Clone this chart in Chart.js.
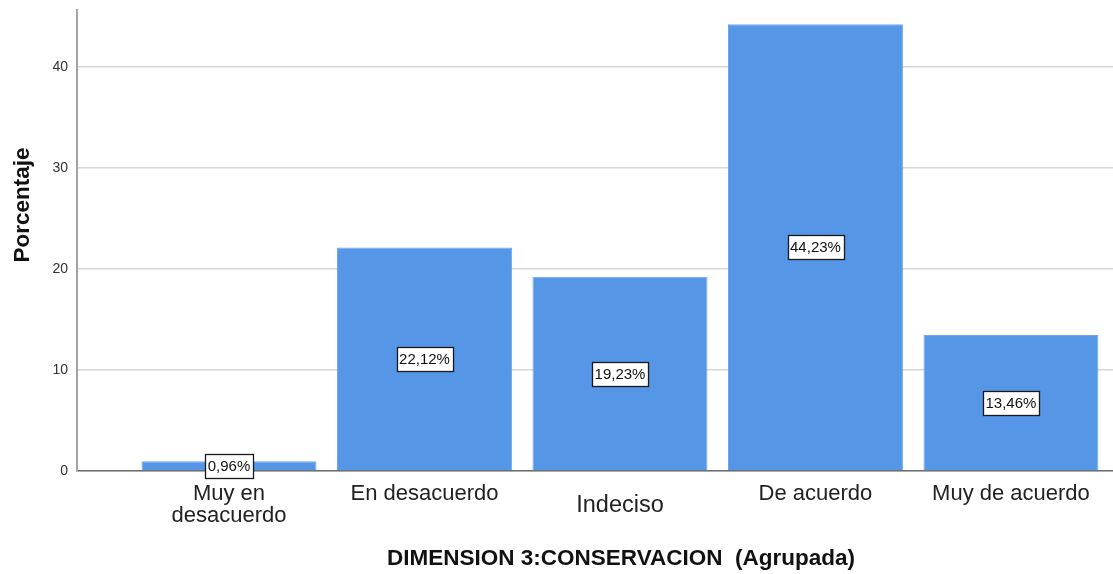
<!DOCTYPE html>
<html><head><meta charset="utf-8">
<script src="https://cdn.jsdelivr.net/npm/chart.js@4"></script>
<style>html,body{margin:0;padding:0;background:#fff;}#wrap{width:1113px;height:574px;}</style>
</head><body><div id="wrap"><canvas id="c" width="1113" height="574"></canvas></div>
<script>
const categories = [['Muy en', 'desacuerdo'], 'En desacuerdo', 'Indeciso', 'De acuerdo', 'Muy de acuerdo'];
const percentages = [0.96, 22.12, 19.23, 44.23, 13.46];
const valueLabels = ['0,96%', '22,12%', '19,23%', '44,23%', '13,46%'];
const yTicks = [0, 10, 20, 30, 40];
const yTitle = 'Porcentaje';
const xTitle = 'DIMENSION 3:CONSERVACION  (Agrupada)';

const FONT = '"Liberation Sans", Arial, sans-serif';

const labelPlugin = {
  id: 'valueBoxes',
  afterDatasetsDraw(chart) {
    const ctx = chart.ctx;
    const meta = chart.getDatasetMeta(0);
    ctx.save();
    ctx.font = '15px ' + FONT;
    ctx.textAlign = 'center';
    ctx.textBaseline = 'middle';
    meta.data.forEach((el, i) => {
      const txt = valueLabels[i];
      const cx = el.x;
      const cy = (el.y + el.base) / 2;
      const w = ctx.measureText(txt).width + 5;
      const h = 24;
      const x0 = Math.round(cx - w / 2) + 0.5, y0 = Math.round(cy - h / 2) + 0.5;
      ctx.fillStyle = '#ffffff';
      ctx.fillRect(x0, y0, Math.round(w), h);
      ctx.strokeStyle = '#1a1a1a';
      ctx.lineWidth = 1.3;
      ctx.strokeRect(x0, y0, Math.round(w), h);
      ctx.fillStyle = '#111';
      ctx.fillText(txt, cx, cy + 1);
    });
    ctx.restore();
  }
};

const titlePlugin = {
  id: 'axisTitles',
  afterDraw(chart) {
    const ctx = chart.ctx;
    ctx.save();
    ctx.fillStyle = '#111';
    ctx.font = 'bold 22.5px ' + FONT;
    ctx.textAlign = 'center';
    ctx.textBaseline = 'alphabetic';
    ctx.fillText(xTitle, 621, 565);
    ctx.translate(29, 205);
    ctx.rotate(-Math.PI / 2);
    ctx.fillText(yTitle, 0, 0);
    ctx.restore();
  }
};

new Chart(document.getElementById('c'), {
  type: 'bar',
  data: {
    datasets: [{
      data: percentages.map((v, i) => ({ x: i, y: v })),
      backgroundColor: '#5596e6',
      borderColor: '#6fa6ec',
      borderWidth: 1,
      barPercentage: 0.895,
      categoryPercentage: 1
    }]
  },
  options: {
    responsive: false,
    animation: false,
    devicePixelRatio: 1,
    layout: { padding: { top: 10, left: 0, right: 0, bottom: 0 } },
    plugins: { legend: { display: false }, tooltip: { enabled: false } },
    scales: {
      x: {
        type: 'linear',
        offset: false,
        min: -0.7775,
        max: 4.522,
        afterBuildTicks: s => { s.ticks = categories.map((_, i) => ({ value: i })); },
        afterFit: s => { s.height = 103; s.paddingLeft = 0; s.paddingRight = 0; },
        grid: { display: false, drawTicks: false, offset: false },
        border: { display: true, color: '#6e6e6e', width: 1.5 },
        ticks: {
          autoSkip: false,
          maxRotation: 0,
          padding: 12,
          color: '#222',
          callback: v => categories[v],
          font: ctx => ctx.index === 2
            ? { family: FONT, size: 23.5, lineHeight: 1.9 }
            : { family: FONT, size: 22, lineHeight: 1.0 }
        }
      },
      y: {
        min: 0,
        max: 45.64,
        afterBuildTicks: s => { s.ticks = yTicks.map(v => ({ value: v })); },
        afterFit: s => { s.width = 77; s.paddingTop = 0; s.paddingBottom = 0; },
        grid: { color: '#d6d6d6', lineWidth: 1.5, drawTicks: false },
        border: { display: true, color: '#a3a3a3', width: 2 },
        ticks: { padding: 9, color: '#333', font: { family: FONT, size: 14 } }
      }
    }
  },
  plugins: [labelPlugin, titlePlugin]
});
</script>
</body></html>
